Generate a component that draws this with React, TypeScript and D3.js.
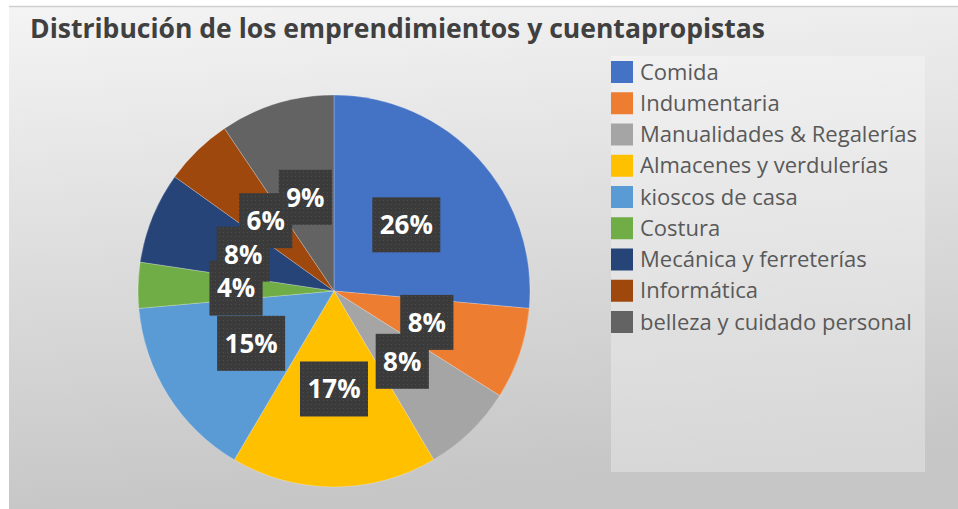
import React from "react";
import * as d3 from "d3";

const categories = [
  "Comida",
  "Indumentaria",
  "Manualidades & Regalerías",
  "Almacenes y verdulerías",
  "kioscos de casa",
  "Costura",
  "Mecánica y ferreterías",
  "Informática",
  "belleza y cuidado personal",
];
const counts = [14, 4, 4, 9, 8, 2, 4, 3, 5];
const colors = [
  "#4472C4",
  "#ED7D31",
  "#A5A5A5",
  "#FFC000",
  "#5B9BD5",
  "#70AD47",
  "#264478",
  "#9E480E",
  "#636363",
];
const title = "Distribución de los emprendimientos y cuentapropistas";

const W = 958;
const H = 509;
const cx = 334;
const cy = 291;
const R = 196;

export default function App() {
  const total = d3.sum(counts);
  const pie = d3.pie<number>().sort(null).value((d) => d);
  const arcs = pie(counts);
  const arc = d3.arc<d3.PieArcDatum<number>>().innerRadius(0).outerRadius(R);
  const fmt = (v: number) => `${Math.round((v / total) * 100)}%`;
  const fontBox = 26;
  const charW = (s: string) =>
    s.split("").reduce((a, c) => a + (c === "%" ? 0.86 : 0.57), 0) * fontBox;

  const legendY = d3
    .scalePoint<string>()
    .domain(categories)
    .range([72, 322]);

  return (
    <div style={{ position: "absolute", left: 0, top: 0 }}>
      <svg width={W} height={H} style={{ display: "block" }}>
        <defs>
          <linearGradient id="bg" x1="0" y1="0" x2="0.15" y2="1">
            <stop offset="0" stopColor="#f4f4f4" />
            <stop offset="1" stopColor="#c6c6c6" />
          </linearGradient>
          <pattern id="dots" width="4" height="4" patternUnits="userSpaceOnUse">
            <rect width="4" height="4" fill="#3b3b3b" />
            <rect x="1" y="1" width="1" height="1" fill="#4d4d4d" />
          </pattern>
        </defs>
        <rect x={0} y={0} width={W} height={H} fill="#ffffff" />
        <rect x={9} y={6} width={W - 9} height={H - 6} fill="url(#bg)" />
        <line x1={9} x2={W} y1={6.5} y2={6.5} stroke="#cfcfcf" strokeWidth={1.5} />
        <text
          x={30}
          y={38}
          fontFamily="'Open Sans', sans-serif"
          fontWeight={700}
          fontSize={26.5}
          textLength={735}
          lengthAdjust="spacingAndGlyphs"
          fill="#404040"
        >
          {title}
        </text>

        <rect x={611} y={56} width={314} height={416} fill="#ffffff" fillOpacity={0.3} />
        {categories.map((c, i) => (
          <g key={c} transform={`translate(611,${legendY(c)})`}>
            <rect x={0} y={-11} width={22} height={22} fill={colors[i]} />
            <text
              x={29}
              y={0}
              dy="0.35em"
              fontFamily="'Open Sans', sans-serif"
              fontSize={22}
              fill="#595959"
            >
              {c}
            </text>
          </g>
        ))}

        <g transform={`translate(${cx},${cy})`}>
          {arcs.map((a, i) => (
            <path
              key={i}
              d={arc(a) || ""}
              fill={colors[i]}
              stroke="#ffffff"
              strokeOpacity={0.4}
              strokeWidth={0.6}
            />
          ))}
          {arcs.map((a, i) => {
            const [lx, ly] = arc.centroid(a);
            const t = fmt(a.value);
            const w = charW(t) + 16;
            const h = 55;
            return (
              <rect
                key={"b" + i}
                x={lx - w / 2}
                y={ly - h / 2}
                width={w}
                height={h}
                fill="url(#dots)"
              />
            );
          })}
          {arcs.map((a, i) => {
            const [lx, ly] = arc.centroid(a);
            return (
              <text
                key={"t" + i}
                x={lx}
                y={ly}
                dy="0.36em"
                textAnchor="middle"
                fontFamily="'Open Sans', sans-serif"
                fontWeight={700}
                fontSize={fontBox}
                fill="#ffffff"
              >
                {fmt(a.value)}
              </text>
            );
          })}
        </g>
      </svg>
    </div>
  );
}
